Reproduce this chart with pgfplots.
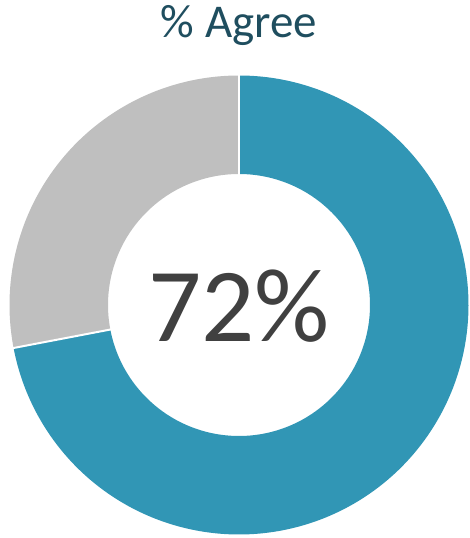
\documentclass[border=0pt]{standalone}
\usepackage{pgfplots}
\usepackage{pgfplotstable}
\pgfplotsset{compat=1.18}
\usepackage{fontspec}
\setmainfont{Carlito}
\definecolor{agree}{HTML}{3196B5}
\definecolor{rest}{HTML}{BFBFBF}
\definecolor{titlec}{HTML}{1F4E5F}
\definecolor{centerc}{HTML}{404040}
\pgfplotstableread{
label value
Agree 72
Other 28
}\donutdata
\pgfplotstablegetelem{0}{value}\of\donutdata\let\vagree\pgfplotsretval
\pgfplotstablegetelem{1}{value}\of\donutdata\let\vother\pgfplotsretval
\pgfmathsetmacro{\aend}{90-\vagree*3.6}
\pgfmathsetmacro{\bend}{\aend-\vother*3.6}
\begin{document}
\begin{tikzpicture}
\begin{axis}[
  x=1pt, y=1pt, scale only axis,
  xmin=-239, xmax=230, ymin=-233, ymax=305,
  hide axis, clip=false,
]
\path (rel axis cs:0,0) rectangle (rel axis cs:1,1);
% ring segments: mid radius 180.25, thickness 98.5
\addplot[agree, line width=98.5pt, domain=\aend:90, samples=300, variable=\t, line cap=butt]
  ({180.25*cos(\t)},{180.25*sin(\t)});
\addplot[rest, line width=98.5pt, domain=\bend:\aend, samples=150, variable=\t, line cap=butt]
  ({180.25*cos(\t)},{180.25*sin(\t)});
% white separators
\addplot[white, line width=2pt] coordinates {(0,130) (0,231)};
\addplot[white, line width=2pt, domain=130:231, samples=2, variable=\r]
  ({\r*cos(\aend)},{\r*sin(\aend)});
\node[anchor=base, text=titlec, font=\fontsize{47}{56}\selectfont] at (axis cs:0,267) {\% Agree};
\node[anchor=base, text=centerc, font=\fontsize{105}{120}\selectfont] at (axis cs:0,-37) {\vagree\%};
\end{axis}
\end{tikzpicture}
\end{document}
